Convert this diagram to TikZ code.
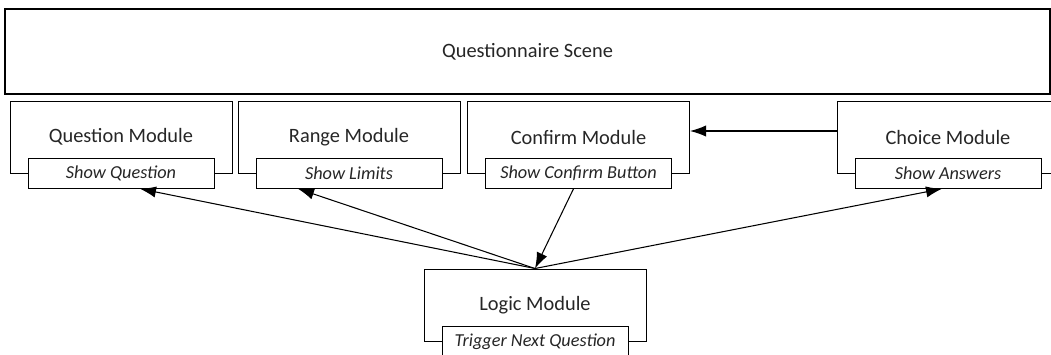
\documentclass[tikz,border=0pt]{standalone}
\usepackage{fontspec}
\setmainfont{Carlito}
\usetikzlibrary{arrows.meta}

\begin{document}
\begin{tikzpicture}[
        module/.style={draw,line width=0.7pt,minimum width=5.55cm,minimum height=1.8cm,
            text=black!85,font=\fontsize{14.5}{16}\selectfont},
        task/.style={draw,fill=white,line width=0.7pt,minimum width=4.65cm,minimum height=0.74cm,
            inner sep=0pt,text=black!85,font=\fontsize{13}{15}\selectfont\itshape},
        link/.style={line width=0.75pt,-{Latex[length=4mm,width=2.8mm]}}]
        \useasboundingbox (0,0) rectangle (26.275,8.85);
        \node[draw,line width=0.9pt,minimum width=26.125cm,minimum height=2.125cm,
            text=black!85,font=\fontsize{14.5}{16}\selectfont] (scene) at (13.1875,7.5625) {Questionnaire Scene};
        % modules of the scene
        \node[module] (question) at (3.025,5.425) {Question Module};
        \node[module] (range) at (8.725,5.425) {Range Module};
        \node[module] (confirm) at (14.4625,5.425) {Confirm Module};
        \node[module] (choice) at (23.7,5.425) {Choice Module};
        \node[module] (logic) at (13.375,1.225) {Logic Module};
        % what each module does
        \node[task] (showq) at (question.south) {Show Question};
        \node[task] (showlim) at (range.south) {Show Limits};
        \node[task] (showbtn) at (confirm.south) {Show Confirm Button};
        \node[task] (showans) at (choice.south) {Show Answers};
        \node[task] (trigger) at (logic.south) {Trigger Next Question};
        % calls
        \draw[link] ([yshift=0.15cm]choice.west) -- ([yshift=0.15cm]confirm.east);
        \draw[link] (logic.north) -- ([xshift=0.475cm]showq.south);
        \draw[link] (logic.north) -- ([xshift=-1.275cm]showlim.south);
        \draw[link] ([xshift=-0.125cm]showbtn.south) -- (logic.north);
        \draw[link] (logic.north) -- ([xshift=-0.15cm]showans.south);
    \end{tikzpicture}
\end{document}
